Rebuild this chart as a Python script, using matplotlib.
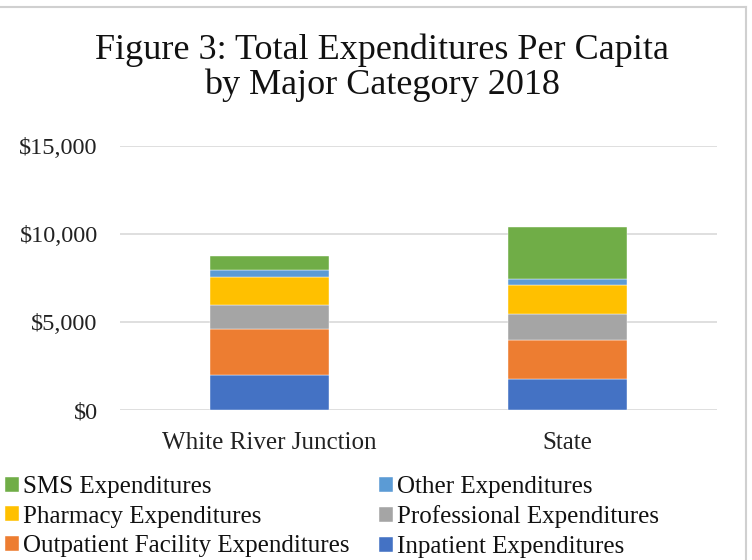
import matplotlib
matplotlib.use("Agg")
import matplotlib.pyplot as plt
from matplotlib.ticker import FuncFormatter

categories = ["White River Junction", "State"]
series_names = ["Inpatient Expenditures", "Outpatient Facility Expenditures",
                "Professional Expenditures", "Pharmacy Expenditures",
                "Other Expenditures", "SMS Expenditures"]
inpatient = [1970, 1742]
outpatient = [2613, 2235]
professional = [1383, 1455]
pharmacy = [1591, 1651]
other = [378, 377]
sms = [815, 2919]
colors = ["#4472C4", "#ED7D31", "#A5A5A5", "#FFC000", "#5B9BD5", "#70AD47"]
yticks = [0, 5000, 10000, 15000]

plt.rcParams['font.family'] = ['Liberation Serif', 'DejaVu Serif']

fig = plt.figure(figsize=(7.52, 5.6), dpi=100)
ax = fig.add_axes([120/752, 150/560, (717-120)/752, (410-146)/560])

data = [inpatient, outpatient, professional, pharmacy, other, sms]
x = list(range(len(categories)))
bottom = [0]*len(categories)
handles = {}
for name, vals, c in zip(series_names, data, colors):
    b = ax.bar(x, vals, width=0.4, bottom=bottom, color=c, label=name,
               edgecolor='white', linewidth=0.3, zorder=3)
    handles[name] = b
    bottom = [bb + v for bb, v in zip(bottom, vals)]

ax.set_xlim(-0.5, 1.5)
ax.set_ylim(0, 15000)
ax.set_yticks(yticks)
ax.yaxis.set_major_formatter(FuncFormatter(lambda v, p: "${:,.0f}".format(v)))
ax.set_xticks(x)
ax.set_xticklabels(categories)
ax.tick_params(axis='y', length=0, labelsize=17.5, pad=16, colors='#222222')
ax.tick_params(axis='x', length=0, labelsize=18, pad=16, colors='#222222')
ax.grid(axis='y', color='#D9D9D9', linewidth=1.2, zorder=0)
for s in ax.spines.values():
    s.set_visible(False)

fig.text(382/752, 1-50/560, "Figure 3: Total Expenditures Per Capita",
         ha='center', va='center', fontsize=26, color='#111111')
fig.text(382/752, 1-85/560, "by Major Category 2018",
         ha='center', va='center', fontsize=26, color='#111111')

order = ["SMS Expenditures", "Pharmacy Expenditures", "Outpatient Facility Expenditures",
         "Other Expenditures", "Professional Expenditures", "Inpatient Expenditures"]
leg = fig.legend([handles[n] for n in order], order, ncol=2, loc='upper left',
                 bbox_to_anchor=(-0.006, 1-466/560), frameon=False, fontsize=18,
                 handlelength=0.55, handleheight=0.55, handletextpad=0.15,
                 columnspacing=1.2, labelspacing=0.3, borderaxespad=0)
for t in leg.get_texts():
    t.set_color('#111111')

# chart border (top and right)
fig.add_artist(plt.Line2D([0, 746/752], [1-7/560, 1-7/560], color='#D0D0D0', lw=1.5))
fig.add_artist(plt.Line2D([746/752, 746/752], [0, 1-7/560], color='#D0D0D0', lw=1.5))

fig.savefig("out.png", dpi=100)
